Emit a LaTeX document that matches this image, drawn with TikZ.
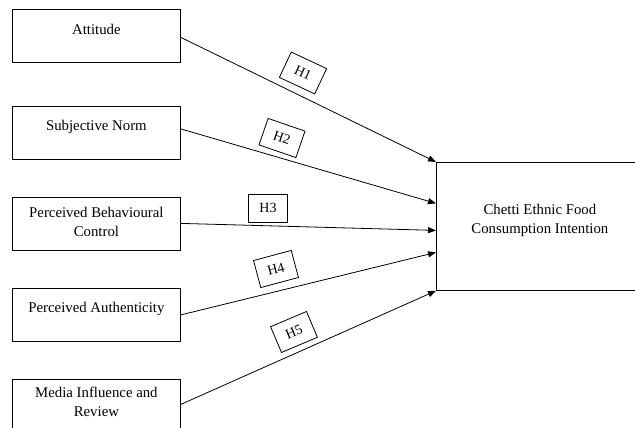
\documentclass[tikz,border=0pt]{standalone}
\usepackage{fontspec}
\setmainfont{Liberation Serif}
\usetikzlibrary{arrows.meta,calc}
\begin{document}
\begin{tikzpicture}[x=1pt,y=-1pt,
  varbox/.style={draw, line width=0.8pt, minimum width=168pt, minimum height=53pt, inner sep=0pt, anchor=north west},
  outbox/.style={draw, line width=0.8pt, minimum width=224pt, minimum height=128pt, inner sep=0pt, anchor=north west},
  boxtext/.style={font=\fontsize{14.8}{19}\selectfont, align=center, inner sep=0pt},
  hyp/.style={draw, line width=0.8pt, minimum width=39pt, minimum height=28pt, inner sep=0pt, font=\fontsize{14}{16}\selectfont},
  conn/.style={line width=0.8pt, -{Triangle[length=8pt,width=6pt]}}
]
\useasboundingbox (0,0) rectangle (635,428);
% predictor boxes
\node[varbox] (att) at (12,9) {};
\node[varbox] (sn)  at (12,106) {};
\node[varbox] (pbc) at (12,197) {};
\node[varbox] (pa)  at (12,288) {};
\node[varbox] (mir) at (12,379) {};
\node[outbox] (out) at (436,162) {};
% texts
\node[boxtext] (tatt) at ([yshift=6pt]att.center) {Attitude};
\node[boxtext] (tsn)  at ([yshift=6pt]sn.center) {Subjective Norm};
\node[boxtext] (tpbc) at ([yshift=2pt]pbc.center) {Perceived Behavioural\\Control};
\node[boxtext] (tpa)  at ([yshift=6pt]pa.center) {Perceived Authenticity};
\node[boxtext] (tmir) at ([yshift=4pt]mir.center) {Media Influence and\\Review};
\node[boxtext] (tout) at ([xshift=-8.5pt,yshift=5.5pt]out.center) {Chetti Ethnic Food\\Consumption Intention};
% connectors
\draw[conn] ([yshift=-1.5pt]att.east) -- (out.north west);
\draw[conn] ([yshift=4pt]sn.east) -- ([yshift=23pt]out.west);
\draw[conn] ([yshift=0.5pt]pbc.east) -- ([yshift=-4pt]out.west);
\draw[conn] (pa.east) -- ([yshift=-26pt]out.west);
\draw[conn] ([yshift=1.5pt]mir.east) -- (out.south west);
% hypothesis labels
\node[hyp, rotate=-25] (h1) at (303,73) {H1};
\node[hyp, rotate=-19] (h2) at (282,138) {H2};
\node[hyp] (h3) at (268,208) {H3};
\node[hyp, rotate=15] (h4) at (276,269) {H4};
\node[hyp, rotate=23] (h5) at (294,332) {H5};
\end{tikzpicture}
\end{document}
